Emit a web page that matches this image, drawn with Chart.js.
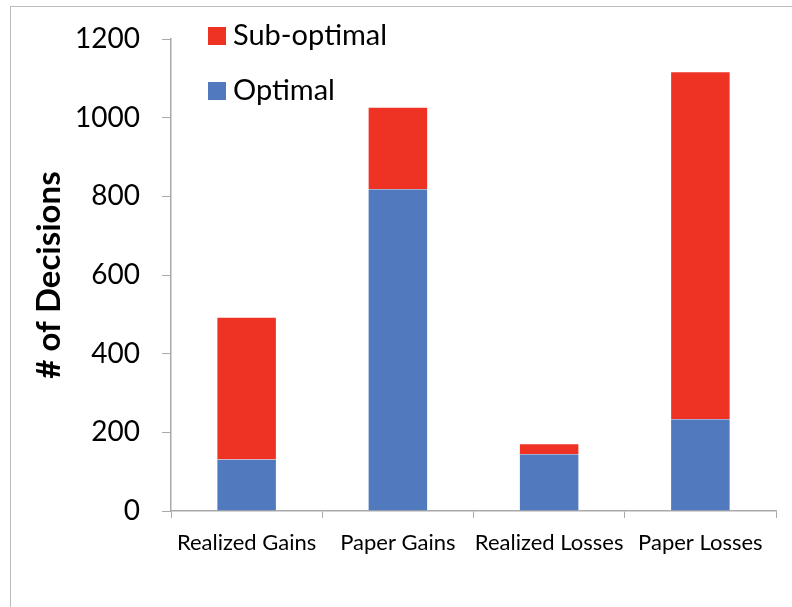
<!DOCTYPE html>
<html>
<head>
<meta charset="utf-8">
<script src="https://cdn.jsdelivr.net/npm/chart.js@4"></script>
<style>
  html, body { margin: 0; padding: 0; background: #fff; }
  #wrap { position: relative; width: 792px; height: 607px; }
  #frame {
    position: absolute; left: 10px; top: 6px; right: 0; bottom: 0;
    border-top: 1.5px solid #bcbcbc; border-left: 1.5px solid #bcbcbc;
  }
  canvas { position: absolute; left: 0; top: 0; }
</style>
</head>
<body>
<div id="wrap">
  <div id="frame"></div>
  <canvas id="chart" width="792" height="607"></canvas>
</div>
<script>
/* ---- data ---- */
const categories = ['Realized Gains', 'Paper Gains', 'Realized Losses', 'Paper Losses'];
const optimal = [131, 818, 144, 233];
const subOptimal = [363, 210, 28, 885];
const yTicks = [0, 200, 400, 600, 800, 1000, 1200];

const BLUE = '#5179be';
const RED = '#ee3325';
const AXIS = '#a9a9a9';
const EDGE = 'rgba(255,255,255,0.45)';

/* legend stacked vertically inside the plot, Sub-optimal on top */
const stackedLegend = {
    id: 'stackedLegend',
    afterDraw(chart) {
        const ctx = chart.ctx;
        const items = chart.data.datasets.slice().reverse();
        ctx.save();
        ctx.font = '29px Lato';
        ctx.textBaseline = 'middle';
        items.forEach((ds, i) => {
            const y = 36 + i * 55;
            ctx.fillStyle = ds.backgroundColor;
            ctx.fillRect(208, y - 9, 18, 18);
            ctx.fillStyle = '#000';
            ctx.fillText(ds.label, 233, y);
        });
        ctx.restore();
    }
};

new Chart(document.getElementById('chart'), {
    type: 'bar',
    data: {
        labels: categories,
        datasets: [
            { label: 'Optimal', data: optimal, backgroundColor: BLUE, borderColor: EDGE,
              borderWidth: { left: 1, right: 1, top: 0, bottom: 0 } },
            { label: 'Sub-optimal', data: subOptimal, backgroundColor: RED, borderColor: EDGE,
              borderWidth: { left: 1, right: 1, top: 1, bottom: 0 } }
        ]
    },
    options: {
        responsive: false,
        animation: false,
        layout: { padding: { top: 39, right: 16, left: 0, bottom: 0 } },
        datasets: { bar: { categoryPercentage: 1, barPercentage: 0.4 } },
        scales: {
            x: {
                stacked: true,
                afterFit: s => { s.height = 96; },
                grid: { drawOnChartArea: false, drawTicks: true, tickLength: 7, color: AXIS, offset: true },
                border: { color: AXIS, width: 1.5 },
                ticks: { color: '#000', font: { family: 'Lato', size: 22 }, padding: 12,
                         maxRotation: 0, autoSkip: false }
            },
            y: {
                stacked: true,
                min: 0,
                max: 1200,
                afterFit: s => { s.width = 171; },
                afterBuildTicks: s => { s.ticks = yTicks.map(v => ({ value: v })); },
                grid: { drawOnChartArea: false, drawTicks: true, tickLength: 9, color: AXIS },
                border: { color: AXIS, width: 1.5 },
                ticks: { color: '#000', font: { family: 'Lato', size: 28 }, padding: 22,
                         callback: v => String(v) },
                title: {
                    display: true,
                    text: '# of Decisions',
                    color: '#000',
                    font: { family: 'Lato', size: 33, weight: 'bold' },
                    padding: { top: 30, bottom: 0 }
                }
            }
        },
        plugins: {
            legend: { display: false },
            tooltip: { enabled: false }
        }
    },
    plugins: [stackedLegend]
});
</script>
</body>
</html>
